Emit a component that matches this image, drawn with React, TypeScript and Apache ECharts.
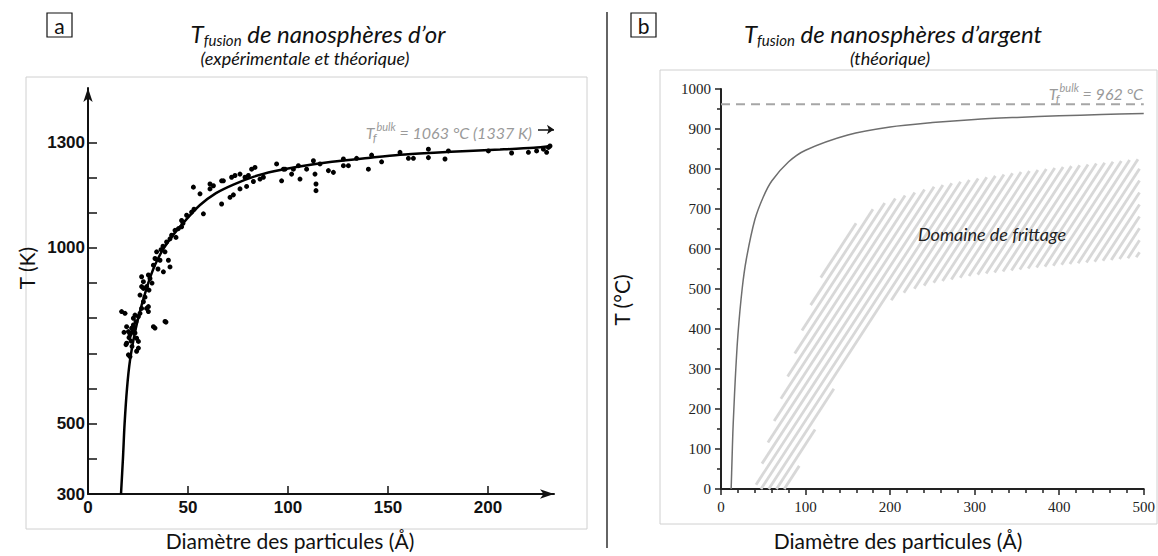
import React, { useEffect, useRef } from "react";
import * as echarts from "echarts";

// ---------- Panel a : gold nanospheres (T in K vs diameter in Å) ----------
const goldBulkK = 1337;
const goldCurve: [number, number][] = [
  [16.5, 300], [17.5, 404], [18.3, 500], [19.5, 600], [21, 680], [23.5, 760],
  [26, 820], [28.5, 870], [31, 915], [34, 958], [38, 1000], [43, 1040],
  [49, 1080], [56, 1122], [64, 1156], [73, 1181], [83, 1203], [93, 1218],
  [105, 1231], [122, 1245], [140, 1256], [156, 1265], [173, 1271], [190, 1276],
  [206, 1280], [223, 1285], [231, 1289],
];
const goldPoints: [number, number][] = [
  [16.8, 819], [18.5, 814], [19.3, 776], [20.2, 762], [21.0, 753], [21.8, 772],
  [22.7, 781], [23.5, 758], [24.3, 743], [25.2, 734], [19.0, 725], [20.2, 696],
  [24.3, 706], [22.7, 800], [23.5, 809], [26.0, 814], [26.8, 828], [29.3, 828],
  [30.2, 819], [27.7, 847], [26.0, 866], [26.8, 890], [27.7, 904], [29.3, 890],
  [31.0, 913], [30.2, 923], [32.7, 951], [33.5, 970], [34.3, 989], [36.0, 965],
  [37.7, 932], [40.2, 965], [41.0, 946], [38.5, 989], [39.3, 1017], [41.0, 1026],
  [41.8, 1036], [43.5, 1050], [45.2, 1055], [46.8, 1060], [46.8, 1078], [49.3, 1093],
  [51.8, 1102], [52.7, 1173], [56.0, 1154], [57.7, 1097], [32.7, 776], [38.5, 791],
  [19.3, 729], [21.0, 691], [25.2, 715], [25.2, 805], [30.2, 833], [33.5, 772],
  [39.0, 789], [26.8, 918], [27.7, 885], [20.5, 745], [21.5, 735], [22.0, 760],
  [23.0, 770], [18.0, 760], [22.0, 720], [24.0, 790], [28.5, 860], [30.5, 880],
  [32.0, 900], [35.0, 940], [36.5, 995], [37.5, 1005], [44.0, 1030], [47.5, 1070],
  [53.0, 1110], [61, 1168], [61, 1182], [62.7, 1177], [66.8, 1191], [66.8, 1125],
  [67.7, 1191], [71, 1144], [71.8, 1201], [72.7, 1151], [73.5, 1206], [76, 1168],
  [76, 1210], [78.5, 1201], [79.3, 1175], [80.2, 1206], [81.8, 1224], [82.7, 1189],
  [83.5, 1229], [86, 1196], [87.7, 1201], [94.3, 1239], [96.8, 1191], [97.7, 1224],
  [98.5, 1224], [101.8, 1210], [102.7, 1224], [105.2, 1234], [106, 1196], [109.3, 1224],
  [112.7, 1248], [113.5, 1210], [114, 1182], [114, 1163], [116, 1239], [120.2, 1220],
  [122.7, 1215], [127.7, 1253], [127.7, 1234], [130.2, 1234], [134.3, 1255], [140.2, 1224],
  [141.8, 1264], [146.8, 1245], [156, 1272], [160.2, 1255], [162.7, 1255], [170.2, 1281],
  [170.2, 1257], [178.5, 1253], [180.2, 1276], [200.2, 1276], [211.8, 1270], [220.2, 1272],
  [224.3, 1276], [227.7, 1281], [229.3, 1272], [230.2, 1286], [231, 1290],
];
const goldXTicks = [50, 100, 150, 200];
const goldXLabels = [0, 50, 100, 150, 200];
const goldYTicks = [300, 400, 500, 600, 700, 800, 900, 1000, 1100, 1200, 1300];
const goldYLabels = [300, 500, 1000, 1300];

// ---------- Panel b : silver nanospheres (T in °C vs diameter in Å) ----------
const silverBulkC = 962;
const silverCurve: [number, number][] = [
  [12, 0], [13, 70], [14, 140], [15, 190], [17, 280], [20, 385], [25, 500],
  [30, 575], [40, 673], [50, 730], [60, 770], [80, 818], [100, 847], [150, 885],
  [200, 905], [250, 916], [300, 924], [350, 929], [400, 933], [450, 936], [500, 939],
];
const sinterUpper: [number, number][] = [
  [40, 0], [60, 150], [80, 290], [100, 425], [120, 540], [140, 615], [160, 665],
  [180, 700], [200, 722], [250, 755], [300, 775], [350, 791], [400, 804],
  [450, 815], [495, 825],
];
const sinterLower: [number, number][] = [
  [81, 0], [100, 95], [120, 190], [140, 280], [160, 365], [180, 430], [200, 470],
  [220, 495], [250, 515], [300, 535], [350, 548], [400, 560], [450, 570], [495, 580],
];

const SANS = "Lato, 'Open Sans', sans-serif";
const SERIF = "'Liberation Serif', 'DejaVu Serif', serif";
const BOLD_SANS = "'Liberation Sans', Arial, sans-serif";

function hatchSegments(poly: number[][], angleDeg: number, gap: number) {
  const a = (angleDeg * Math.PI) / 180;
  const dx = Math.cos(a), dy = -Math.sin(a);
  const nx = Math.sin(a), ny = Math.cos(a);
  const s = poly.map((p) => p[0] * nx + p[1] * ny);
  const smin = Math.min(...s), smax = Math.max(...s);
  const out: number[][] = [];
  for (let c = smin + gap / 2; c < smax; c += gap) {
    const us: number[] = [];
    for (let i = 0; i < poly.length; i++) {
      const j = (i + 1) % poly.length;
      const s1 = s[i], s2 = s[j];
      if ((s1 <= c && s2 > c) || (s2 <= c && s1 > c)) {
        const t = (c - s1) / (s2 - s1);
        const x = poly[i][0] + t * (poly[j][0] - poly[i][0]);
        const y = poly[i][1] + t * (poly[j][1] - poly[i][1]);
        us.push(x * dx + y * dy);
      }
    }
    us.sort((p, q) => p - q);
    for (let k = 0; k + 1 < us.length; k += 2) {
      out.push([c * nx + us[k] * dx, c * ny + us[k] * dy, c * nx + us[k + 1] * dx, c * ny + us[k + 1] * dy]);
    }
  }
  return out;
}

function titleText(x: number, y: number, rest: string) {
  return {
    type: "text",
    x,
    y,
    style: {
      text: `{T|T}{s|fusion}{n|${rest}}`,
      align: "center",
      verticalAlign: "middle",
      fill: "#111",
      rich: {
        T: { fontFamily: SANS, fontStyle: "italic", fontSize: 24, lineHeight: 30, fill: "#111" },
        s: { fontFamily: SANS, fontStyle: "italic", fontSize: 15, lineHeight: 16, padding: [14, 0, 0, 0], fill: "#111" },
        n: { fontFamily: SANS, fontStyle: "italic", fontSize: 24, lineHeight: 30, fill: "#111" },
      },
    },
  };
}

function bulkText(x: number, y: number, rest: string) {
  return {
    type: "text",
    x,
    y,
    style: {
      text: `{T|T}{f|f}{b|bulk}{n|${rest}}`,
      align: "right",
      verticalAlign: "middle",
      fill: "#9a9a9a",
      rich: {
        T: { fontFamily: SANS, fontStyle: "italic", fontSize: 16, lineHeight: 24, fill: "#9a9a9a" },
        f: { fontFamily: SANS, fontStyle: "italic", fontSize: 12, lineHeight: 13, padding: [11, 0, 0, 0], width: 2, fill: "#9a9a9a" },
        b: { fontFamily: SANS, fontStyle: "italic", fontSize: 11, lineHeight: 13, padding: [0, 0, 11, 0], fill: "#9a9a9a" },
        n: { fontFamily: SANS, fontStyle: "italic", fontSize: 16, lineHeight: 24, fill: "#9a9a9a" },
      },
    },
  };
}

const plain = (v: number) => String(v);

export default function App() {
  const ref = useRef<HTMLDivElement>(null);

  useEffect(() => {
    const chart = echarts.init(ref.current!, null, { renderer: "svg" });

    const option: any = {
      animation: false,
      backgroundColor: "#ffffff",
      grid: [
        { left: 88, top: 88, width: 466, height: 406 },
        { left: 721, top: 89, width: 424, height: 400 },
      ],
      xAxis: [
        {
          gridIndex: 0,
          type: "value",
          min: 0,
          max: 233,
          axisLine: {
            show: true,
            symbol: ["none", "arrow"],
            symbolSize: [7, 14],
            lineStyle: { color: "#111", width: 2 },
          },
          axisTick: { show: true, inside: true, length: 8, customValues: goldXTicks, lineStyle: { color: "#111", width: 1.5 } },
          axisLabel: {
            customValues: goldXLabels,
            formatter: plain,
            fontFamily: BOLD_SANS,
            fontWeight: "bold",
            fontSize: 17,
            color: "#111",
            margin: 5,
          },
          splitLine: { show: false },
        },
        {
          gridIndex: 1,
          type: "value",
          min: 0,
          max: 500,
          interval: 100,
          axisLine: { show: true, lineStyle: { color: "#222", width: 2 } },
          axisTick: { show: true, length: 6, lineStyle: { color: "#222", width: 1.5 } },
          minorTick: { show: true, splitNumber: 5, length: 4, lineStyle: { color: "#222", width: 1.5 } },
          axisLabel: { formatter: plain, fontFamily: SERIF, fontSize: 15, color: "#222", margin: 10 },
          splitLine: { show: false },
        },
      ],
      yAxis: [
        {
          gridIndex: 0,
          type: "value",
          min: 300,
          max: 1455,
          axisLine: {
            show: true,
            symbol: ["none", "arrow"],
            symbolSize: [7, 14],
            lineStyle: { color: "#111", width: 2 },
          },
          axisTick: { show: true, inside: true, length: 9, customValues: goldYTicks, lineStyle: { color: "#111", width: 1.5 } },
          axisLabel: {
            customValues: goldYLabels,
            formatter: plain,
            fontFamily: BOLD_SANS,
            fontWeight: "bold",
            fontSize: 17,
            color: "#111",
            margin: 3,
          },
          splitLine: { show: false },
        },
        {
          gridIndex: 1,
          type: "value",
          min: 0,
          max: 1000,
          interval: 100,
          axisLine: { show: true, lineStyle: { color: "#222", width: 2 } },
          axisTick: { show: true, length: 6, lineStyle: { color: "#222", width: 1.5 } },
          minorTick: { show: true, splitNumber: 2, length: 4, lineStyle: { color: "#222", width: 1.5 } },
          axisLabel: { formatter: plain, fontFamily: SERIF, fontSize: 15, color: "#222", margin: 10 },
          splitLine: { show: false },
        },
      ],
      series: [
        {
          type: "scatter",
          xAxisIndex: 0,
          yAxisIndex: 0,
          data: goldPoints,
          symbolSize: 5,
          itemStyle: { color: "#000", opacity: 1 },
          silent: true,
        },
        {
          type: "line",
          xAxisIndex: 0,
          yAxisIndex: 0,
          data: goldCurve,
          smooth: 0.3,
          showSymbol: false,
          lineStyle: { color: "#000", width: 2.5 },
          silent: true,
          markLine: {
            silent: true,
            symbol: ["none", "arrow"],
            symbolSize: 7,
            label: { show: false },
            lineStyle: { color: "#111", width: 1.5, type: "solid" },
            data: [[{ coord: [225, goldBulkK] }, { coord: [233, goldBulkK] }]],
          },
        },
        {
          type: "custom",
          xAxisIndex: 1,
          yAxisIndex: 1,
          data: [[sinterUpper[0][0], sinterUpper[0][1]]],
          silent: true,
          clip: false,
          z: 1,
          renderItem: (params: any, api: any) => {
            if (params.dataIndex !== 0) return null;
            const poly = [...sinterUpper, ...sinterLower.slice().reverse()].map((p) => api.coord(p));
            const segs = hatchSegments(poly, 57, 6.5);
            return {
              type: "group",
              children: segs.map((sg) => ({
                type: "line",
                shape: { x1: sg[0], y1: sg[1], x2: sg[2], y2: sg[3] },
                style: { stroke: "#d8d8d8", lineWidth: 2.8 },
              })),
            };
          },
        },
        {
          type: "line",
          xAxisIndex: 1,
          yAxisIndex: 1,
          data: [[0, silverBulkC], [500, silverBulkC]],
          showSymbol: false,
          lineStyle: { color: "#a6a6a6", width: 2, type: [9, 6] },
          silent: true,
          z: 2,
        },
        {
          type: "line",
          xAxisIndex: 1,
          yAxisIndex: 1,
          data: silverCurve,
          smooth: 0.3,
          showSymbol: false,
          lineStyle: { color: "#6e6e6e", width: 1.5 },
          silent: true,
          z: 3,
        },
      ],
      graphic: [
        // frames of the two pictures
        { type: "rect", shape: { x: 26, y: 77, width: 561, height: 452 }, style: { fill: "none", stroke: "#d0d0d0", lineWidth: 1 }, z: -1 },
        { type: "rect", shape: { x: 660, y: 70, width: 497, height: 454 }, style: { fill: "none", stroke: "#d0d0d0", lineWidth: 1 }, z: -1 },
        // separator
        { type: "line", shape: { x1: 607, y1: 12, x2: 607, y2: 548 }, style: { stroke: "#111", lineWidth: 1.3 } },
        // panel letters
        { type: "rect", shape: { x: 47, y: 13, width: 25, height: 24 }, style: { fill: "#fff", stroke: "#111", lineWidth: 1.2 } },
        { type: "text", x: 59.5, y: 25.5, style: { text: "a", fontFamily: SANS, fontSize: 21, fill: "#111", align: "center", verticalAlign: "middle" } },
        { type: "rect", shape: { x: 631, y: 13, width: 25, height: 24 }, style: { fill: "#fff", stroke: "#111", lineWidth: 1.2 } },
        { type: "text", x: 643.5, y: 25, style: { text: "b", fontFamily: SANS, fontSize: 21, fill: "#111", align: "center", verticalAlign: "middle" } },
        // titles
        titleText(318, 33, " de nanosphères d\u2019or"),
        { type: "text", x: 305, y: 58, style: { text: "(expérimentale et théorique)", fontFamily: SANS, fontStyle: "italic", fontSize: 18, fill: "#111", align: "center", verticalAlign: "middle" } },
        titleText(893, 33, " de nanosphères d\u2019argent"),
        { type: "text", x: 890, y: 58, style: { text: "(théorique)", fontFamily: SANS, fontStyle: "italic", fontSize: 18, fill: "#111", align: "center", verticalAlign: "middle" } },
        // axis titles
        { type: "text", x: 290, y: 540, style: { text: "Diamètre des particules (Å)", fontFamily: SANS, fontSize: 21, fill: "#111", align: "center", verticalAlign: "middle" } },
        { type: "text", x: 898, y: 540, style: { text: "Diamètre des particules (Å)", fontFamily: SANS, fontSize: 21, fill: "#111", align: "center", verticalAlign: "middle" } },
        { type: "text", x: 26, y: 268, rotation: Math.PI / 2, style: { text: "T (K)", fontFamily: SANS, fontSize: 21, fill: "#111", align: "center", verticalAlign: "middle" } },
        { type: "text", x: 621, y: 300, rotation: Math.PI / 2, style: { text: "T (°C)", fontFamily: SANS, fontSize: 21, fill: "#111", align: "center", verticalAlign: "middle" } },
        // annotations
        bulkText(532, 132, " = 1063 °C (1337 K)"),
        bulkText(1143, 93, " = 962 °C"),
        { type: "text", x: 992, y: 234, style: { text: "Domaine de frittage", fontFamily: SANS, fontStyle: "italic", fontSize: 18, fill: "#222", align: "center", verticalAlign: "middle" }, z: 10 },
      ],
    };

    chart.setOption(option);
    return () => chart.dispose();
  }, []);

  return (
    <div
      ref={ref}
      style={{ position: "fixed", left: 0, top: 0, width: 1158, height: 556, background: "#fff" }}
    />
  );
}
